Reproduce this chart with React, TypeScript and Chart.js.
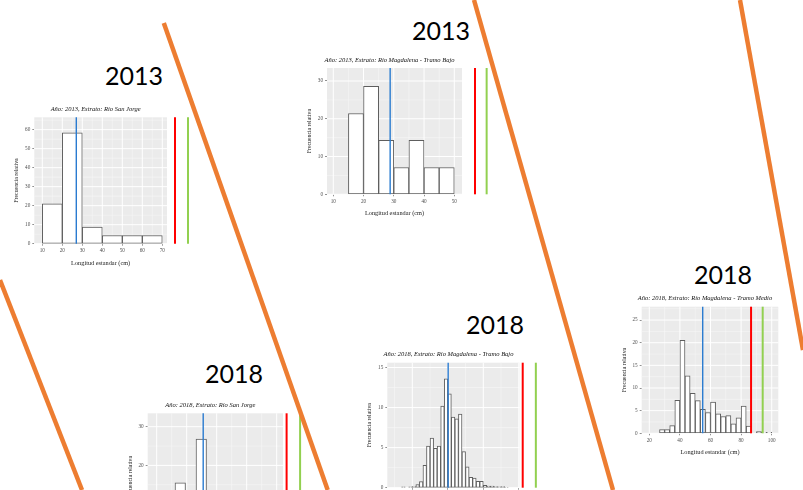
import React, { useEffect, useRef } from "react";
import { Chart, registerables } from "chart.js";

Chart.register(...registerables);

// ---------- data ----------
// Panel: Año 2013, Río San Jorge
const sj13Starts = [10, 20, 30, 40, 50, 60];
const sj13Width = 10;
const sj13Freq = [21.0, 58.3, 8.7, 4.3, 4.3, 4.3];
const sj13XTicks = [10, 20, 30, 40, 50, 60, 70];
const sj13YTicks = [0, 10, 20, 30, 40, 50, 60];
const sj13Lines = { mean: 27.0, red: 76.35, green: 82.85 };

// Panel: Año 2013, Río Magdalena - Tramo Bajo
const mb13Starts = [15, 20, 25, 30, 35, 40, 45];
const mb13Width = 5;
const mb13Freq = [21.4, 28.6, 14.3, 7.1, 14.3, 7.1, 7.1];
const mb13XTicks = [10, 20, 30, 40, 50];
const mb13YTicks = [0, 10, 20, 30];
const mb13Lines = { mean: 28.8, red: 56.85, green: 60.7 };

// Panel: Año 2018, Río Magdalena - Tramo Medio
const mm18Starts = [26.67, 30, 33.33, 36.67, 40, 43.33, 46.67, 50, 53.33, 56.67, 60, 63.33, 66.67, 70, 73.33, 76.67, 80, 83.33, 90, 93.33, 96.67];
const mm18Width = 3.333;
const mm18Freq = [0.8, 0.8, 1.7, 7.3, 20.5, 12.7, 8.8, 7.2, 5.3, 4.6, 6.9, 4.3, 3.7, 3.9, 2.1, 3.4, 6.0, 1.6, 0.4, 0.2, 0.2];
const mm18XTicks = [20, 40, 60, 80, 100];
const mm18YTicks = [0, 5, 10, 15, 20, 25];
const mm18Lines = { mean: 54.9, red: 86.5, green: 94.1 };

// Panel: Año 2018, Río Magdalena - Tramo Bajo
const mb18Starts = [7, 9, 10, 11, 12, 13, 14, 15, 16, 17, 18, 19, 20, 21, 22, 23, 24, 25, 26, 27, 28, 29, 30, 31, 32, 33, 34, 35, 36];
const mb18Width = 1;
const mb18Freq = [0.1, 0.1, 0.15, 0.4, 0.75, 2.8, 5.2, 6.2, 4.9, 5.2, 10.2, 13.6, 11.7, 8.8, 8.6, 9.2, 4.5, 2.6, 1.3, 1.2, 0.8, 0.8, 0.3, 0.2, 0.2, 0.15, 0.1, 0.15, 0.05];
const mb18XTicks = [10, 20, 30, 40];
const mb18YTicks = [0, 5, 10, 15];
const mb18Lines = { mean: 20.1, red: 41.1, green: 44.8 };

// Panel: Año 2018, Río San Jorge
const sj18Starts = [9.1, 12.6, 16.1, 19.6, 23.1, 26.6, 30.1, 33.6, 37.1, 40.6, 44.1];
const sj18Width = 3.5;
const sj18Freq = [1.5, 6.0, 15.5, 12.5, 26.8, 12.0, 10.0, 7.0, 5.0, 2.5, 1.2];
const sj18XTicks = [10, 20, 30, 40, 50];
const sj18YTicks = [0, 10, 20, 30];
const sj18Lines = { mean: 25.5, red: 53.3, green: 57.8 };

const yearLabels = ["2013", "2013", "2018", "2018", "2018"];

// ---------- layout ----------
type Panel = {
  title: string;
  starts: number[];
  width: number;
  freq: number[];
  xTicks: number[];
  yTicks: number[];
  lines: { mean: number; red: number; green: number };
  xMin: number; xMax: number; bgMax: number; yMax: number;
  left: number; right: number; top: number; bottom: number;
};

const panels: Panel[] = [
  {
    title: "Año: 2013, Estrato: Río San Jorge",
    starts: sj13Starts, width: sj13Width, freq: sj13Freq, xTicks: sj13XTicks, yTicks: sj13YTicks, lines: sj13Lines,
    xMin: 6, xMax: 84.85, bgMax: 72.35, yMax: 66.5,
    left: 34.3, right: 192, top: 117.3, bottom: 243.7,
  },
  {
    title: "Año: 2013, Estrato: Río Magdalena - Tramo Bajo",
    starts: mb13Starts, width: mb13Width, freq: mb13Freq, xTicks: mb13XTicks, yTicks: mb13YTicks, lines: mb13Lines,
    xMin: 7.92, xMax: 62.14, bgMax: 52.55, yMax: 33.44,
    left: 327, right: 491, top: 68, bottom: 194.3,
  },
  {
    title: "Año: 2018, Estrato: Río Magdalena - Tramo Medio",
    starts: mm18Starts, width: mm18Width, freq: mm18Freq, xTicks: mm18XTicks, yTicks: mm18YTicks, lines: mm18Lines,
    xMin: 15.03, xMax: 104.3, bgMax: 104.3, yMax: 27.95,
    left: 641.7, right: 778.3, top: 306.7, bottom: 433.3,
  },
  {
    title: "Año: 2018, Estrato: Río Magdalena - Tramo Bajo",
    starts: mb18Starts, width: mb18Width, freq: mb18Freq, xTicks: mb18XTicks, yTicks: mb18YTicks, lines: mb18Lines,
    xMin: 2.96, xMax: 45.97, bgMax: 40.2, yMax: 15.6,
    left: 387.3, right: 540, top: 362.7, bottom: 487.7,
  },
  {
    title: "Año: 2018, Estrato: Río San Jorge",
    starts: sj18Starts, width: sj18Width, freq: sj18Freq, xTicks: sj18XTicks, yTicks: sj18YTicks, lines: sj18Lines,
    xMin: 7, xMax: 59.1, bgMax: 52.1, yMax: 33.46,
    left: 147.7, right: 304, top: 413.3, bottom: 542.8,
  },
];

const yearPos = [
  { x: 105, base: 85 },
  { x: 412, base: 40 },
  { x: 694, base: 284 },
  { x: 466, base: 334 },
  { x: 205, base: 383 },
];

const orangeLines = [
  [163.8, 23, 327.7, 490],
  [474, 0, 613, 490],
  [740, 0, 803, 350],
  [0, 280, 82, 490],
];

const SERIF = "'Liberation Serif', 'DejaVu Serif', serif";
const YW = 21;
const XH = 12;
const PT = 14;
const PB = 14;
const PR = 3;

function makePlugin(p: Panel) {
  return {
    id: "ggpanel",
    beforeDatasetsDraw(chart: any) {
      const { ctx, chartArea: ca, scales } = chart;
      const x = scales.x;
      const y = scales.y;
      const x0 = x.getPixelForValue(p.xMin);
      const x1 = x.getPixelForValue(p.bgMax);
      ctx.save();
      ctx.fillStyle = "#EBEBEB";
      ctx.fillRect(x0, ca.top, x1 - x0, ca.bottom - ca.top);
      // minor grid
      const xs = p.xTicks[1] - p.xTicks[0];
      const ys = p.yTicks[1] - p.yTicks[0];
      ctx.strokeStyle = "#F6F6F6";
      ctx.lineWidth = 0.6;
      ctx.beginPath();
      for (let v = p.xTicks[0] - xs / 2; v <= p.bgMax; v += xs) {
        if (v < p.xMin) continue;
        const px = x.getPixelForValue(v);
        ctx.moveTo(px, ca.top);
        ctx.lineTo(px, ca.bottom);
      }
      for (let v = ys / 2; v <= p.yMax; v += ys) {
        const py = y.getPixelForValue(v);
        ctx.moveTo(x0, py);
        ctx.lineTo(x1, py);
      }
      ctx.stroke();
      // major grid
      ctx.strokeStyle = "#FFFFFF";
      ctx.lineWidth = 1;
      ctx.beginPath();
      p.xTicks.forEach((v) => {
        const px = x.getPixelForValue(v);
        ctx.moveTo(px, ca.top);
        ctx.lineTo(px, ca.bottom);
      });
      p.yTicks.forEach((v) => {
        const py = y.getPixelForValue(v);
        ctx.moveTo(x0, py);
        ctx.lineTo(x1, py);
      });
      ctx.stroke();
      ctx.restore();
    },
    afterDatasetsDraw(chart: any) {
      const { ctx, chartArea: ca, scales } = chart;
      const x = scales.x;
      const y = scales.y;
      const yb = y.getPixelForValue(0);
      const draw = (v: number, color: string, w: number) => {
        const px = x.getPixelForValue(v);
        ctx.save();
        ctx.strokeStyle = color;
        ctx.lineWidth = w;
        ctx.beginPath();
        ctx.moveTo(px, ca.top);
        ctx.lineTo(px, yb);
        ctx.stroke();
        ctx.restore();
      };
      draw(p.lines.mean, "#2A7BD0", 1.4);
      draw(p.lines.red, "#FF0000", 2);
      draw(p.lines.green, "#92D050", 2);
    },
    afterDraw(chart: any) {
      const { ctx, chartArea: ca, scales } = chart;
      const x = scales.x;
      const y = scales.y;
      const cx = (x.getPixelForValue(p.xMin) + x.getPixelForValue(p.bgMax)) / 2;
      ctx.save();
      ctx.fillStyle = "#111";
      ctx.textAlign = "center";
      ctx.textBaseline = "middle";
      ctx.font = `italic 6.5px ${SERIF}`;
      ctx.fillText(p.title, cx - 5, ca.top - 8);
      ctx.font = `6.3px ${SERIF}`;
      ctx.fillStyle = "#222";
      ctx.fillText("Longitud estandar (cm)", cx, y.getPixelForValue(0) + 19.5);
      ctx.restore();
    },
  };
}

function HistPanel({ p }: { p: Panel }) {
  const ref = useRef<HTMLCanvasElement>(null);
  const L = Math.floor(p.left - YW - 1);
  const T = Math.floor(p.top - PT);
  const W = Math.ceil(p.right + PR - L);
  const H = Math.ceil(p.bottom + XH + PB - T);
  const padL = p.left - YW - L;
  const padT = p.top - T;
  const padR = W - (p.right - L);
  const padB = H - (p.bottom + XH - T);

  useEffect(() => {
    if (!ref.current) return;
    const tickFont = { family: SERIF, size: 5.2 };
    const chart = new Chart(ref.current, {
      type: "bar",
      data: {
        datasets: [
          {
            data: p.starts.map((s, i) => ({ x: s + p.width / 2, y: p.freq[i] })),
            backgroundColor: "#FFFFFF",
            borderColor: "#5E5E5E",
            borderWidth: 1,
            borderSkipped: false,
            barPercentage: 1,
            categoryPercentage: 1,
          } as any,
        ],
      },
      options: {
        animation: false,
        responsive: false,
        devicePixelRatio: 1,
        layout: { padding: { left: padL, top: padT, right: padR, bottom: padB } },
        plugins: {
          legend: { display: false },
          tooltip: { enabled: false },
          title: { display: false },
        },
        scales: {
          x: {
            type: "linear",
            min: p.xMin,
            max: p.xMax,
            offset: false,
            afterBuildTicks: (s: any) => {
              s.ticks = p.xTicks.map((v) => ({ value: v }));
            },
            afterFit: (s: any) => {
              s.height = XH;
            },
            grid: { display: true, drawOnChartArea: false, drawTicks: true, tickLength: 2, color: "#444", lineWidth: 0.6, offset: false },
            border: { display: false },
            ticks: {
              autoSkip: false,
              maxRotation: 0,
              padding: 2,
              color: "#4D4D4D",
              font: tickFont,
              callback: (v: any) => String(v),
            },
          },
          y: {
            type: "linear",
            min: 0,
            max: p.yMax,
            afterBuildTicks: (s: any) => {
              s.ticks = p.yTicks.map((v) => ({ value: v }));
            },
            afterFit: (s: any) => {
              s.width = YW;
            },
            grid: { display: true, drawOnChartArea: false, drawTicks: true, tickLength: 2, color: "#444", lineWidth: 0.6 },
            border: { display: false },
            ticks: {
              autoSkip: false,
              padding: 2,
              color: "#4D4D4D",
              font: tickFont,
              callback: (v: any) => String(v),
            },
            title: {
              display: true,
              text: "Frecuencia relativa",
              color: "#222",
              font: { family: SERIF, size: 5.8 },
              padding: 0,
            },
          },
        },
      } as any,
      plugins: [makePlugin(p)],
    });
    return () => chart.destroy();
  }, [p]);

  return (
    <canvas
      ref={ref}
      width={W}
      height={H}
      style={{ position: "absolute", left: L, top: T, width: W, height: H }}
    />
  );
}

export default function App() {
  return (
    <div
      style={{
        position: "fixed",
        left: 0,
        top: 0,
        width: 803,
        height: 490,
        overflow: "hidden",
        background: "#FFFFFF",
      }}
    >
      {panels.map((p, i) => (
        <HistPanel key={i} p={p} />
      ))}
      {yearLabels.map((t, i) => (
        <div
          key={"y" + i}
          style={{
            position: "absolute",
            left: yearPos[i].x,
            top: yearPos[i].base - 22.2,
            fontFamily: "Lato, 'Open Sans', sans-serif",
            fontSize: 25,
            lineHeight: "25px",
            color: "#000",
            whiteSpace: "nowrap",
          }}
        >
          {t}
        </div>
      ))}
      <svg
        width={803}
        height={490}
        style={{ position: "absolute", left: 0, top: 0, pointerEvents: "none" }}
      >
        {orangeLines.map((l, i) => (
          <line key={i} x1={l[0]} y1={l[1]} x2={l[2]} y2={l[3]} stroke="#ED7D31" strokeWidth={4.5} />
        ))}
      </svg>
    </div>
  );
}
